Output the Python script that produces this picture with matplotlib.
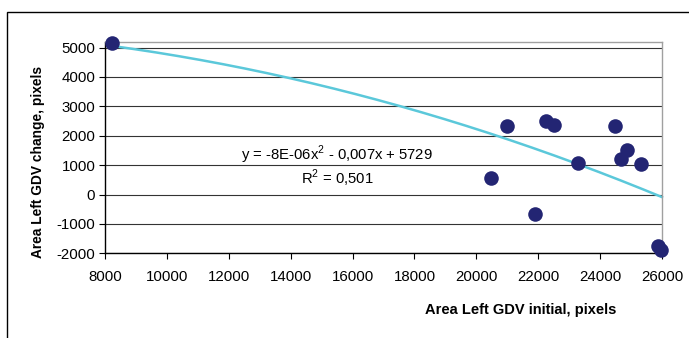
import numpy as np
import matplotlib
matplotlib.use("Agg")
import matplotlib.pyplot as plt
from matplotlib.patches import Rectangle

# Data
area_initial = [8236, 20490, 20975, 21889, 22267, 22503, 23290, 24473, 24667, 24870, 25335, 25872, 25980]
area_change = [5170, 565, 2323, -646, 2503, 2381, 1075, 2323, 1224, 1531, 1054, -1759, -1871]
x_ticks = [8000, 10000, 12000, 14000, 16000, 18000, 20000, 22000, 24000, 26000]
y_ticks = [-2000, -1000, 0, 1000, 2000, 3000, 4000, 5000]
equation_text = "y = -8E-06x$^2$ - 0,007x + 5729"
r2_text = "R$^2$ = 0,501"

plt.rcParams['font.family'] = ['Liberation Sans', 'DejaVu Sans']
plt.rcParams['mathtext.fontset'] = 'custom'
plt.rcParams['mathtext.rm'] = 'Liberation Sans'

W, H = 689, 338
fig = plt.figure(figsize=(W / 100, H / 100), dpi=100)

def fx(px):
    return px / W

def fy(py):
    return 1 - py / H

left, right, top, bottom = 105, 662, 42, 253.3
ax = fig.add_axes([fx(left), fy(bottom), fx(right) - fx(left), fy(top) - fy(bottom)])

# outer chart frame
fig.patches.append(Rectangle((fx(7), -0.1), 1.2, fy(12) + 0.1, transform=fig.transFigure,
                             fill=False, edgecolor='black', linewidth=1.0))

ax.set_xlim(8000, 26000)
ax.set_ylim(-2000, 5190)
ax.set_xticks(x_ticks)
ax.set_yticks(y_ticks)
ax.set_xticklabels([str(t) for t in x_ticks])
ax.set_yticklabels([str(t) for t in y_ticks])
ax.tick_params(axis='both', direction='out', length=4, width=0.8, labelsize=10.8, colors='black', pad=3)
ax.tick_params(axis='x', pad=8)

ax.grid(axis='y', color='#333333', linewidth=0.8)
ax.set_axisbelow(True)
for s in ['top', 'right']:
    ax.spines[s].set_color('#a0a0a0')
    ax.spines[s].set_linewidth(1.0)
for s in ['left', 'bottom']:
    ax.spines[s].set_color('black')
    ax.spines[s].set_linewidth(1.0)

# polynomial trendline
coef = np.polyfit(area_initial, area_change, 2)
xs = np.linspace(min(area_initial), 26000, 200)
ax.plot(xs, np.polyval(coef, xs), color='#5BC8DA', linewidth=1.8, zorder=2, clip_on=False)

ax.scatter(area_initial, area_change, s=110, color='#232573', zorder=3, clip_on=False, linewidths=0)

fig.text(fx(337), fy(155), equation_text, ha='center', va='center', fontsize=10.7)
fig.text(fx(337), fy(178), r2_text, ha='center', va='center', fontsize=10.7)

fig.text(fx(521), fy(310), "Area Left GDV initial, pixels", ha='center', va='center',
         fontsize=10.5, fontweight='bold')
fig.text(fx(38), fy(162), "Area Left GDV change, pixels", ha='center', va='center',
         fontsize=9.9, fontweight='bold', rotation=90)

fig.savefig("out.png", dpi=100)
